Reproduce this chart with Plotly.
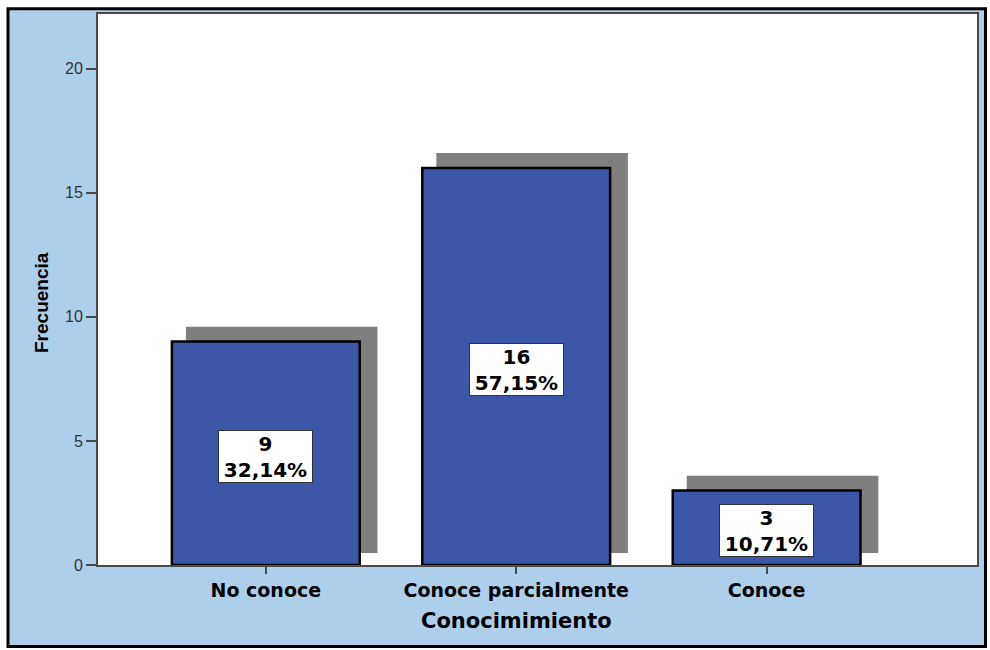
import plotly.graph_objects as go

# Frequency table for "Conocimimiento"
categories = ["No conoce", "Conoce parcialmente", "Conoce"]
counts = [9, 16, 3]
percents = ["32,14%", "57,15%", "10,71%"]
y_ticks = [0, 5, 10, 15, 20]

# Canvas / layout geometry (pixels)
W, H = 990, 650
ML, MR, MT, MB = 98, 13, 14, 85
PW, PH = W - ML - MR, H - MT - MB

BLUE_BG = "#AECFEC"
BAR_BLUE = "#3C56A8"
SHADOW_GRAY = "#7F7F7F"
AXIS_GRAY = "#4a4a4a"
BAR_W = 0.75
SHADOW_W = 0.765
SHADOW_DX = 0.056      # horizontal shift of the drop shadow (category units)
SHADOW_DY = 0.6        # vertical lift of the drop shadow (value units)
SHADOW_BASE = 0.48     # shadow starts slightly above the baseline

fig = go.Figure()

# drop shadows behind the bars
fig.add_bar(
    x=categories,
    y=[c + SHADOW_DY - SHADOW_BASE for c in counts],
    base=SHADOW_BASE,
    width=SHADOW_W,
    offset=-BAR_W / 2 + SHADOW_DX,
    marker=dict(color=SHADOW_GRAY, line=dict(width=0)),
    hoverinfo="skip",
)

# main bars
fig.add_bar(
    x=categories,
    y=counts,
    width=BAR_W,
    offset=-BAR_W / 2,
    marker=dict(color=BAR_BLUE, line=dict(color="black", width=2.5)),
    hoverinfo="skip",
)

LABEL_FONT = dict(family="DejaVu Sans, Verdana, sans-serif", size=20, color="black", weight="bold")


def px_x(p):
    return (p - ML) / PW


def px_y(p):
    return (MT + PH - p) / PH


shapes = [
    # light blue panel with black frame
    dict(type="rect", xref="paper", yref="paper", layer="below",
         x0=px_x(8), x1=px_x(985.5), y0=px_y(646.5), y1=px_y(8.7),
         fillcolor=BLUE_BG, line=dict(color="black", width=3)),
    # white plotting area
    dict(type="rect", xref="paper", yref="paper", layer="below",
         x0=0, x1=1, y0=0, y1=1, fillcolor="white", line=dict(width=0)),
]

annotations = []
for cat, n, pct in zip(categories, counts, percents):
    # count and percentage in a white box at the bar's mid-height
    annotations.append(dict(
        x=cat, y=n / 2, xref="x", yref="y",
        text=f"{n}<br>{pct}", showarrow=False, font=LABEL_FONT,
        width=93, height=51, bgcolor="white", bordercolor="#333333",
        borderwidth=1, borderpad=0, yshift=-3, valign="middle",
    ))

# x axis title, centred on the middle category
annotations.append(dict(
    x=categories[1], xref="x", y=px_y(621), yref="paper",
    text="Conocimimiento", showarrow=False, yanchor="middle",
    font=dict(family="DejaVu Sans, Verdana, sans-serif", size=21, color="black", weight="bold"),
))
# y axis title
annotations.append(dict(
    x=px_x(41), xref="paper", y=px_y(303), yref="paper",
    text="Frecuencia", showarrow=False, textangle=-90,
    xanchor="center", yanchor="middle",
    font=dict(family="Liberation Sans, Arial, sans-serif", size=19, color="black", weight="bold"),
))

fig.update_layout(
    width=W, height=H,
    margin=dict(l=ML, r=MR, t=MT, b=MB, pad=0),
    paper_bgcolor="white",
    plot_bgcolor="white",
    barmode="overlay",
    showlegend=False,
    annotations=annotations,
    shapes=shapes,
    xaxis=dict(
        type="category",
        range=[-0.67, 2.84],
        showline=True, linecolor=AXIS_GRAY, linewidth=2, mirror=True,
        ticks="outside", ticklen=7, tickcolor=AXIS_GRAY, tickwidth=1.5,
        showgrid=False, zeroline=False,
        tickfont=dict(family="DejaVu Sans, Verdana, sans-serif", size=19, color="black", weight="bold"),
    ),
    yaxis=dict(
        range=[0, 22.2],
        tickvals=y_ticks,
        showline=True, linecolor=AXIS_GRAY, linewidth=2, mirror=True,
        ticks="outside", ticklen=10, tickcolor=AXIS_GRAY, tickwidth=1.5,
        showgrid=False, zeroline=False,
        tickfont=dict(family="Liberation Sans, Arial, sans-serif", size=16, color="#333333"),
    ),
)

fig.write_html("out.html")
